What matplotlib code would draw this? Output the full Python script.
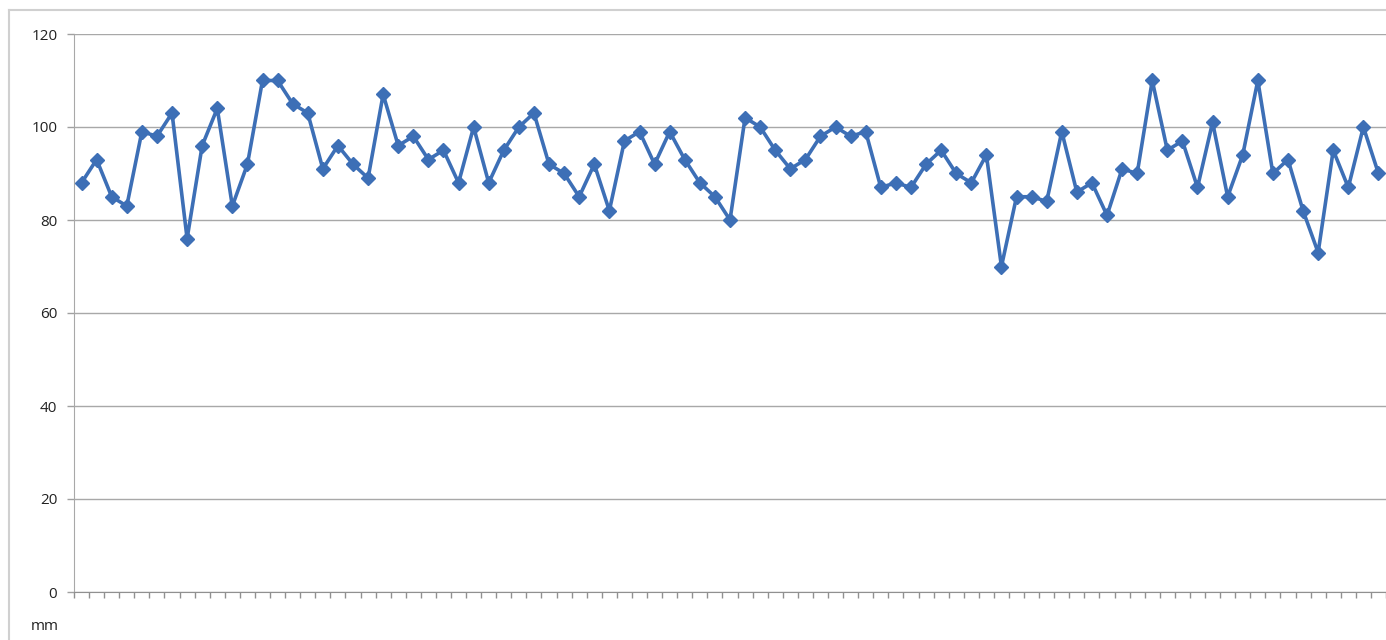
import numpy as np
import matplotlib.pyplot as plt
from matplotlib.lines import Line2D

# values, one per category
values = [88, 93, 85, 83, 99, 98, 103, 76, 96, 104,
          83, 92, 110, 110, 105, 103, 91, 96, 92, 89,
          107, 96, 98, 93, 95, 88, 100, 88, 95, 100,
          103, 92, 90, 85, 92, 82, 97, 99, 92, 99,
          93, 88, 85, 80, 102, 100, 95, 91, 93, 98,
          100, 98, 99, 87, 88, 87, 92, 95, 90, 88,
          94, 70, 85, 85, 84, 99, 86, 88, 81, 91,
          90, 110, 95, 97, 87, 101, 85, 94, 110, 90,
          93, 82, 73, 95, 87, 100, 90]
y_ticks = [0, 20, 40, 60, 80, 100, 120]
unit_label = "mm"

plt.rcParams['font.family'] = ['Open Sans', 'DejaVu Sans']

W, H = 1386, 640
fig = plt.figure(figsize=(W / 100, H / 100), dpi=100)

# outer chart frame (light grey, cut off at right/bottom)
fig.add_artist(Line2D([9 / W, 1], [1 - 10 / H, 1 - 10 / H], color='#d0d0d0', lw=1.5))
fig.add_artist(Line2D([9 / W, 9 / W], [0, 1 - 10 / H], color='#d0d0d0', lw=1.5))

ax = fig.add_axes([74 / W, 48 / H, (W - 74) / W, (592 - 34) / H])

x = np.arange(len(values))
ax.plot(x, values, color='#3d6fb6', lw=2.6, marker='D', markersize=7,
        markerfacecolor='#3d6fb6', markeredgecolor='#3d6fb6')

ax.set_xlim(-0.5, len(values) - 0.5)
ax.set_ylim(0, 120)
ax.set_yticks(y_ticks)
ax.yaxis.grid(True, color='#a8a8a8', lw=1)
ax.set_axisbelow(True)

ax.set_xticks(np.arange(-0.5, len(values), 1))
ax.set_xticklabels([])
ax.tick_params(axis='x', direction='out', length=4, color='#909090', width=1)
ax.tick_params(axis='y', direction='out', length=5, color='#a0a0a0', width=1,
               labelsize=11, labelcolor='#222222', pad=7)

for s in ['top', 'right']:
    ax.spines[s].set_visible(False)
ax.spines['left'].set_color('#a8a8a8')
ax.spines['bottom'].set_color('#909090')

fig.text(45 / W, 1 - 627 / H, unit_label, ha='center', va='center',
         fontsize=11, color='#222222')

fig.savefig('out.png', dpi=100)
